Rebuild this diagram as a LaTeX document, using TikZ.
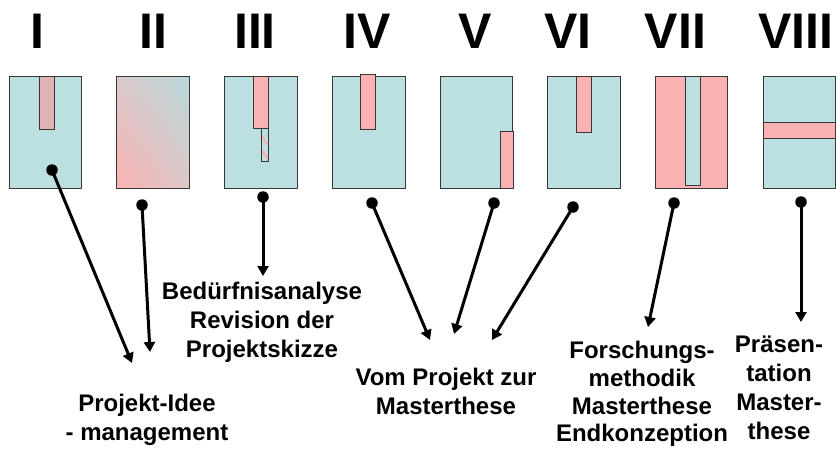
\documentclass[tikz,border=0pt]{standalone}
\usepackage{fontspec}
\setmainfont{Liberation Sans}
\usetikzlibrary{arrows.meta,shadings}
\definecolor{cblue}{RGB}{188,224,226}
\definecolor{cpink}{RGB}{250,178,178}
\definecolor{cmix}{RGB}{224,180,180}
\definecolor{cedge}{RGB}{55,55,55}
\begin{document}
\begin{tikzpicture}[x=1pt,y=-1pt,
  panel/.style={draw=cedge, line width=0.9pt},
  numeral/.style={font=\fontsize{50}{50}\selectfont\bfseries, inner sep=0pt, anchor=base},
  lbl/.style={font=\fontsize{24}{29}\selectfont\bfseries, align=center, inner sep=0pt},
  dot/.style={circle, fill=black, inner sep=0pt, minimum size=11.5pt},
  link/.style={line width=3pt, -{Triangle[length=10pt,width=11pt]}}
]
\useasboundingbox (0,0) rectangle (836,450);

% numerals
\node[numeral] (n1) at (37.5,48) {I};
\node[numeral] (n2) at (153,48) {II};
\node[numeral] (n3) at (255,48) {III};
\node[numeral] (n4) at (367,48) {IV};
\node[numeral] (n5) at (475.5,48) {V};
\node[numeral] (n6) at (568,48) {VI};
\node[numeral] (n7) at (675.5,48) {VII};
\node[numeral] (n8) at (796,48) {VIII};

% panel I
\filldraw[panel, fill=cblue] (9,76) rectangle (81,188);
\filldraw[panel, fill=cmix] (39,76) rectangle (54,129);
% panel II
\shade[lower left=cpink, upper right=cblue!92!gray, upper left=cpink!50!cblue, lower right=cpink!55!cblue] (116,76) rectangle (189,188);
\draw[panel] (116,76) rectangle (189,188);
% panel III
\filldraw[panel, fill=cblue] (224,76) rectangle (297,188);
\filldraw[panel, fill=cpink] (253,76) rectangle (268,128);
\fill[cblue] (261,128) rectangle (268,161);
\begin{scope}
  \clip (261,128) rectangle (268,161);
  \draw[cpink, line width=2.5pt] (261,135) -- (268,145);
  \draw[cpink, line width=2.5pt] (261,149) -- (268,159);
\end{scope}
\draw[panel] (261,128) rectangle (268,161);
% panel IV
\filldraw[panel, fill=cblue] (332,76) rectangle (405,188);
\filldraw[panel, fill=cpink] (360,74.5) rectangle (375,129);
% panel V
\filldraw[panel, fill=cblue] (440,76) rectangle (512,188);
\filldraw[panel, fill=cpink] (500,131) rectangle (513,188);
% panel VI
\filldraw[panel, fill=cblue] (547,76) rectangle (620,188);
\filldraw[panel, fill=cpink] (576,76) rectangle (591,132);
% panel VII
\filldraw[panel, fill=cpink] (655,76) rectangle (727,188);
\filldraw[panel, fill=cblue] (685,76) rectangle (700,185);
% panel VIII
\filldraw[panel, fill=cblue] (763,76) rectangle (835,188);
\filldraw[panel, fill=cpink] (763,122) rectangle (835,138);

% labels
\node[lbl] (l1) at (147,420) {Projekt-Idee\\- management};
\node[lbl] (l3) at (262,322) {Bedürfnisanalyse\\Revision der\\Projektskizze};
\node[lbl] (l4) at (446,391) {Vom Projekt zur\\Masterthese};
\node[lbl, font=\fontsize{24}{27.7}\selectfont\bfseries] (l7) at (642,394) {Forschungs-\\methodik\\Masterthese\\Endkonzeption};
\node[lbl] (l8) at (779,388) {Präsen-\\tation\\Master-\\these};

% dots
\node[dot] (d1) at (52,170) {};
\node[dot] (d2) at (142,205) {};
\node[dot] (d3) at (263,197) {};
\node[dot] (d4) at (372,203) {};
\node[dot] (d5) at (494,203) {};
\node[dot] (d6) at (573,207) {};
\node[dot] (d7) at (674,203) {};
\node[dot] (d8) at (801,202) {};

% arrow ends
\coordinate (e1) at (132,363);
\coordinate (e2) at (150,352);
\coordinate (e3) at (263,276);
\coordinate (e4) at (430,340);
\coordinate (e5) at (454,334);
\coordinate (e6) at (492,340);
\coordinate (e7) at (648,327);
\coordinate (e8) at (801,322);

\foreach \i in {1,...,8} { \draw[link] (d\i.center) -- (e\i); }
\end{tikzpicture}
\end{document}
